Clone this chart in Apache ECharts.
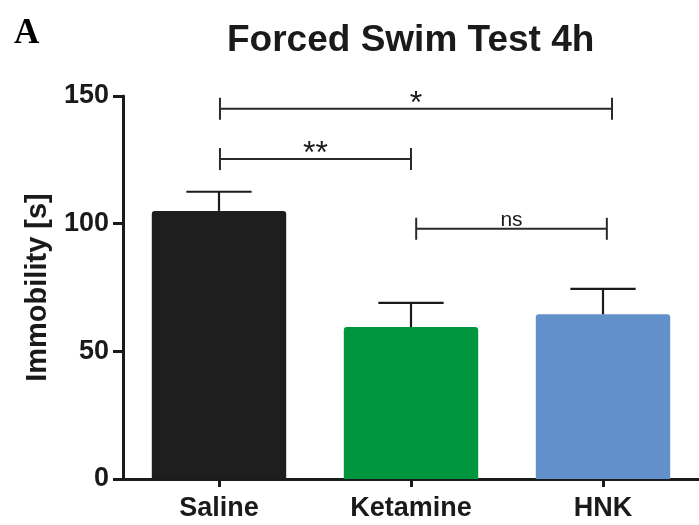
<!DOCTYPE html>
<html>
<head>
<meta charset="utf-8">
<title>Forced Swim Test 4h</title>
<script src="https://cdn.jsdelivr.net/npm/echarts@6/dist/echarts.min.js"></script>
<style>
  html, body { margin: 0; padding: 0; background: #ffffff; }
  #chart { width: 699px; height: 525px; }
</style>
</head>
<body>
<div id="chart"></div>
<script>
// Groups and mean immobility time (s) with SEM
const groups = ['Saline', 'Ketamine', 'HNK'];
const immobility = [105, 59.5, 64.5];
const sem = [7.5, 9.5, 10];
const groupColors = ['#1e1e1e', '#00953f', '#6190ca'];

// Y axis ticks
const yMin = 0;
const yMax = 150;
const yStep = 50;

// Pairwise comparisons: [from group, to group, bracket height (s), label]
const comparisons = [
  [0, 2, 145, '*'],
  [0, 1, 125.3, '**'],
  [1, 2, 98, 'ns']
];
// small horizontal nudges of the bracket ends, as a fraction of the band width
const bracketEndNudge = [[0.005, 0.047], [0.005, 0.0], [0.027, 0.02]];

const FONT = '"Liberation Sans", Arial, Helvetica, sans-serif';
const INK = '#1a1a1a';

const chart = echarts.init(document.getElementById('chart'), null, { renderer: 'canvas' });

const option = {
  backgroundColor: '#ffffff',
  animation: false,
  title: [
    {
      text: 'Forced Swim Test 4h',
      left: 222,
      top: 17,
      textStyle: { fontFamily: FONT, fontWeight: 'bold', fontSize: 37, color: '#1a1a1a' }
    },
    {
      text: 'A',
      left: 9,
      top: 11,
      textStyle: { fontFamily: '"Liberation Serif", "Times New Roman", serif', fontWeight: 'bold', fontSize: 35, color: '#000000' }
    }
  ],
  grid: { left: 123, right: 0, top: 96, bottom: 46, containLabel: false },
  xAxis: {
    type: 'category',
    data: groups,
    axisLine: { show: true, lineStyle: { color: INK, width: 3 } },
    axisTick: { show: true, alignWithLabel: true, length: 8, lineStyle: { color: INK, width: 3 } },
    axisLabel: { fontFamily: FONT, fontWeight: 'bold', fontSize: 27, color: '#1a1a1a', margin: 16 },
    splitLine: { show: false }
  },
  yAxis: {
    type: 'value',
    min: yMin,
    max: yMax,
    interval: yStep,
    name: 'Immobility [s]',
    nameLocation: 'middle',
    nameRotate: 90,
    nameGap: 71,
    nameTextStyle: { fontFamily: FONT, fontWeight: 'bold', fontSize: 29, color: '#1a1a1a' },
    axisLine: { show: true, lineStyle: { color: INK, width: 3 } },
    axisTick: { show: true, inside: false, length: 10, lineStyle: { color: INK, width: 3 } },
    axisLabel: { fontFamily: FONT, fontWeight: 'bold', fontSize: 27, color: '#1a1a1a', margin: 14 },
    splitLine: { show: false }
  },
  series: [
    {
      type: 'bar',
      barWidth: '70%',
      data: immobility.map((v, i) => ({
        value: v,
        itemStyle: { color: groupColors[i], borderRadius: [3, 3, 0, 0] }
      })),
      z: 2
    },
    {
      // SEM error bars (upper half only)
      type: 'custom',
      clip: false,
      z: 3,
      data: immobility.map((v, i) => [i, v, sem[i]]),
      encode: { x: 0, y: 1 },
      renderItem: function (params, api) {
        const i = api.value(0);
        const m = api.value(1);
        const e = api.value(2);
        const base = api.coord([i, m]);
        const top = api.coord([i, m + e]);
        const half = api.size([1, 0])[0] * 0.17;
        const style = { stroke: INK, lineWidth: 2.2 };
        return {
          type: 'group',
          children: [
            { type: 'line', shape: { x1: base[0], y1: base[1], x2: top[0], y2: top[1] }, style: style },
            { type: 'line', shape: { x1: top[0] - half, y1: top[1], x2: top[0] + half, y2: top[1] }, style: style }
          ]
        };
      }
    },
    {
      // significance brackets
      type: 'custom',
      clip: false,
      z: 4,
      data: comparisons.map(c => [c[0], c[2], c[1]]),
      encode: { x: 0, y: 1 },
      renderItem: function (params, api) {
        const idx = params.dataIndex;
        const cmp = comparisons[idx];
        const band = api.size([1, 0])[0];
        const nudge = bracketEndNudge[idx];
        const a = api.coord([cmp[0], cmp[2]]);
        const b = api.coord([cmp[1], cmp[2]]);
        const x1 = a[0] + nudge[0] * band;
        const x2 = b[0] + nudge[1] * band;
        const y = a[1];
        const tick = 11;
        const style = { stroke: '#2a2a2a', lineWidth: 2 };
        const isStar = cmp[3].indexOf('*') >= 0;
        return {
          type: 'group',
          children: [
            { type: 'line', shape: { x1: x1, y1: y, x2: x2, y2: y }, style: style },
            { type: 'line', shape: { x1: x1, y1: y - tick, x2: x1, y2: y + tick }, style: style },
            { type: 'line', shape: { x1: x2, y1: y - tick, x2: x2, y2: y + tick }, style: style },
            {
              type: 'text',
              x: (x1 + x2) / 2,
              y: isStar ? y + 11 : y + 2,
              style: {
                text: cmp[3],
                fontFamily: FONT,
                fontSize: isStar ? 32 : 21,
                fill: '#1a1a1a',
                align: 'center',
                verticalAlign: 'bottom'
              }
            }
          ]
        };
      }
    }
  ]
};

chart.setOption(option);
</script>
</body>
</html>
